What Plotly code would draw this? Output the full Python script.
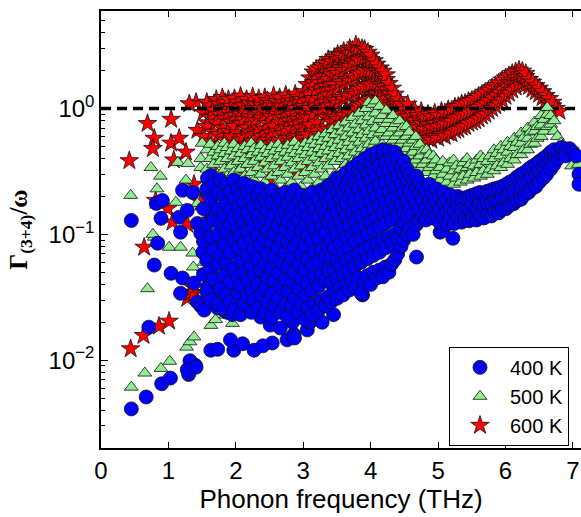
import plotly.graph_objects as go

# ---------------- data ----------------
series_names = ["400 K", "500 K", "600 K"]
threshold = 1.0
x_range = [0.0, 7.12]
y_log_range = [-2.698, 0.775]
x_tick_vals = [0, 1, 2, 3, 4, 5, 6, 7]
y_tick_vals = [0.01, 0.1, 1.0]
y_tick_text = ["10<sup>\u22122</sup>", "10<sup>\u22121</sup>", "10<sup>0</sup>"]

# 600 K (red stars): (frequency THz, Gamma/omega)
red_600K = [
    (0.44, 0.0123), (0.63, 0.0157), (0.86, 0.0186), (1.01, 0.0204),
    (0.64, 0.079), (1.28, 0.031), (1.33, 0.0345), (1.38, 0.034), (1.36, 0.038),
    (1.55, 0.049), (1.63, 0.043), (1.9, 0.05), (2.15, 0.055),
    (0.42, 0.385), (0.69, 0.76), (0.79, 0.58), (0.77, 0.48), (0.81, 0.186),
    (1.04, 0.82), (1.04, 0.53), (1.16, 0.58), (1.26, 0.45), (1.08, 0.39),
    (1.41, 1.12), (1.31, 1.09), (1.67, 1.06), (1.58, 0.77), (1.43, 0.67),
    (0.99, 0.16), (1.06, 0.125), (1.38, 0.25), (1.48, 0.18), (1.28, 0.12), (1.63, 0.13),
    (1.7, 0.3), (1.88, 0.22), (2.06, 0.33), (2.28, 0.19), (2.5, 0.28), (2.7, 0.35),
    (1.6, 0.15), (1.82, 0.1), (2.0, 0.13), (2.4, 0.36), (2.9, 0.32), (3.1, 0.35),
    (1.52, 0.93), (1.52, 0.6), (1.57, 0.72), (1.57, 1.12),
    (1.62, 0.55), (1.62, 0.85), (1.62, 1.05), (1.66, 0.65), (1.66, 0.97),
    (1.71, 0.5), (1.71, 0.78), (1.71, 1.18), (1.75, 0.62), (1.75, 0.9), (1.75, 1.08),
    (1.8, 0.46), (1.8, 0.7), (1.8, 1.0), (1.8, 1.22), (1.84, 0.56), (1.84, 0.83), (1.84, 1.12),
    (1.89, 0.5), (1.89, 0.66), (1.89, 0.93), (1.89, 1.18), (1.93, 0.42), (1.93, 0.6), (1.93, 0.78), (1.93, 1.04),
    (1.98, 0.53), (1.98, 0.72), (1.98, 0.88), (1.98, 1.2), (2.02, 0.47), (2.02, 0.64), (2.02, 0.98), (2.02, 1.12),
    (2.07, 0.56), (2.07, 0.76), (2.07, 0.9), (2.07, 1.25), (2.11, 0.44), (2.11, 0.6), (2.11, 0.82), (2.11, 1.05),
    (2.16, 0.52), (2.16, 0.7), (2.16, 0.94), (2.16, 1.18), (2.2, 0.48), (2.2, 0.65), (2.2, 0.86), (2.2, 1.1),
    (2.25, 0.55), (2.25, 0.74), (2.25, 1.0), (2.25, 1.24), (2.29, 0.45), (2.29, 0.62), (2.29, 0.8), (2.29, 1.08),
    (2.34, 0.52), (2.34, 0.7), (2.34, 0.92), (2.34, 1.2), (2.38, 0.43), (2.38, 0.6), (2.38, 0.84), (2.38, 1.06),
    (2.43, 0.5), (2.43, 0.68), (2.43, 0.95), (2.43, 1.22), (2.47, 0.56), (2.47, 0.76), (2.47, 1.02), (2.47, 1.15),
    (2.52, 0.47), (2.52, 0.64), (2.52, 0.86), (2.52, 1.1), (2.56, 0.53), (2.56, 0.72), (2.56, 0.98), (2.56, 1.26),
    (2.61, 0.49), (2.61, 0.66), (2.61, 0.9), (2.61, 1.14), (2.65, 0.56), (2.65, 0.77), (2.65, 1.04), (2.65, 1.22),
    (2.7, 0.46), (2.7, 0.63), (2.7, 0.85), (2.7, 1.12), (2.74, 0.52), (2.74, 0.7), (2.74, 0.95), (2.74, 1.28),
    (2.79, 0.58), (2.79, 0.8), (2.79, 1.06), (2.79, 1.2), (2.83, 0.5), (2.83, 0.68), (2.83, 0.9), (2.83, 1.15),
    (2.88, 0.55), (2.88, 0.74), (2.88, 1.0), (2.88, 1.3), (2.92, 0.6), (2.92, 0.82), (2.92, 1.1), (2.92, 1.22),
    (2.97, 0.52), (2.97, 0.7), (2.97, 0.94), (2.97, 1.18), (3.01, 0.58), (3.01, 0.78), (3.01, 1.04), (3.01, 1.36),
    (3.06, 0.62), (3.06, 0.85), (3.06, 1.15), (3.06, 1.55),
    (3.1, 0.55), (3.1, 0.74), (3.1, 1.0), (3.1, 1.28), (3.1, 1.75),
    (3.15, 0.45), (3.15, 0.66), (3.15, 0.9), (3.15, 1.2), (3.15, 1.6), (3.15, 1.95),
    (3.19, 0.5), (3.19, 0.78), (3.19, 1.05), (3.19, 1.4), (3.19, 1.85), (3.19, 2.05),
    (3.24, 0.62), (3.24, 0.92), (3.24, 1.2), (3.24, 1.6), (3.24, 2.1),
    (3.28, 0.42), (3.28, 0.7), (3.28, 1.0), (3.28, 1.35), (3.28, 1.78), (3.28, 2.2),
    (3.33, 0.55), (3.33, 0.85), (3.33, 1.12), (3.33, 1.5), (3.33, 1.95), (3.33, 2.3),
    (3.37, 0.68), (3.37, 0.95), (3.37, 1.28), (3.37, 1.7), (3.37, 2.15), (3.37, 2.45),
    (3.42, 0.78), (3.42, 1.05), (3.42, 1.4), (3.42, 1.85), (3.42, 2.35),
    (3.46, 0.85), (3.46, 1.15), (3.46, 1.55), (3.46, 2.0), (3.46, 2.55),
    (3.51, 0.82), (3.51, 1.1), (3.51, 1.45), (3.51, 1.9), (3.51, 2.45), (3.51, 2.7),
    (3.55, 0.9), (3.55, 1.22), (3.55, 1.62), (3.55, 2.1), (3.55, 2.65),
    (3.6, 0.88), (3.6, 1.18), (3.6, 1.55), (3.6, 2.0), (3.6, 2.5), (3.6, 2.85),
    (3.64, 0.95), (3.64, 1.28), (3.64, 1.7), (3.64, 2.2), (3.64, 2.75),
    (3.69, 0.92), (3.69, 1.25), (3.69, 1.65), (3.69, 2.15), (3.69, 2.7), (3.69, 3.0),
    (3.73, 1.0), (3.73, 1.35), (3.73, 1.8), (3.73, 2.35), (3.73, 2.9),
    (3.78, 0.98), (3.78, 1.3), (3.78, 1.72), (3.78, 2.25), (3.78, 2.8), (3.78, 3.2),
    (3.82, 1.05), (3.82, 1.42), (3.82, 1.88), (3.82, 2.45), (3.82, 3.05),
    (3.87, 1.08), (3.87, 1.45), (3.87, 1.92), (3.87, 2.5), (3.87, 3.0),
    (3.91, 1.12), (3.91, 1.5), (3.91, 2.0), (3.91, 2.55), (3.91, 2.95),
    (3.96, 1.15), (3.96, 1.55), (3.96, 2.05), (3.96, 2.6), (3.96, 2.8),
    (4.0, 1.18), (4.0, 1.55), (4.0, 2.0), (4.0, 2.45), (4.0, 2.65),
    (4.05, 1.2), (4.05, 1.58), (4.05, 2.0), (4.05, 2.4),
    (4.09, 1.22), (4.09, 1.6), (4.09, 1.98), (4.09, 2.25),
    (4.14, 1.2), (4.14, 1.55), (4.14, 1.9), (4.14, 2.1),
    (4.18, 1.18), (4.18, 1.5), (4.18, 1.8), (4.18, 1.98),
    (4.23, 1.12), (4.23, 1.42), (4.23, 1.7), (4.23, 1.85),
    (4.27, 1.05), (4.27, 1.32), (4.27, 1.58),
    (4.32, 1.0), (4.32, 1.22), (4.32, 1.45),
    (4.36, 0.92), (4.36, 1.12), (4.36, 1.3),
    (4.41, 0.85), (4.41, 1.02), (4.41, 1.18),
    (4.45, 0.7), (4.45, 0.9), (4.45, 1.08),
    (4.5, 0.62), (4.5, 0.78), (4.5, 0.98), (4.55, 0.66), (4.55, 0.86), (4.55, 1.08),
    (4.6, 0.58), (4.6, 0.72), (4.6, 0.92), (4.65, 0.63), (4.65, 0.8), (4.65, 0.98),
    (4.7, 0.56), (4.7, 0.7), (4.7, 0.88), (4.75, 0.6), (4.75, 0.76), (4.75, 0.95),
    (4.8, 0.55), (4.8, 0.68), (4.8, 0.84), (4.85, 0.58), (4.85, 0.74), (4.85, 0.9),
    (4.9, 0.56), (4.9, 0.7), (4.9, 0.86), (4.95, 0.6), (4.95, 0.76), (4.95, 0.92),
    (5.0, 0.58), (5.0, 0.72), (5.0, 0.88), (5.05, 0.62), (5.05, 0.78), (5.05, 0.95),
    (5.1, 0.6), (5.1, 0.75), (5.1, 0.92), (5.15, 0.64), (5.15, 0.8), (5.15, 0.98),
    (5.2, 0.63), (5.2, 0.79), (5.2, 0.97), (5.25, 0.67), (5.25, 0.84), (5.25, 1.03),
    (5.3, 0.68), (5.3, 0.85), (5.3, 1.04), (5.35, 0.71), (5.35, 0.89), (5.35, 1.09),
    (5.4, 0.72), (5.4, 0.9), (5.4, 1.1), (5.45, 0.76), (5.45, 0.94), (5.45, 1.14),
    (5.5, 0.78), (5.5, 0.96), (5.5, 1.16), (5.55, 0.8), (5.55, 1.0), (5.55, 1.2),
    (5.6, 0.83), (5.6, 1.02), (5.6, 1.25), (5.65, 0.87), (5.65, 1.07), (5.65, 1.3),
    (5.7, 0.9), (5.7, 1.1), (5.7, 1.35), (5.75, 0.95), (5.75, 1.16), (5.75, 1.4),
    (5.8, 1.0), (5.8, 1.22), (5.8, 1.46), (5.85, 1.05), (5.85, 1.28), (5.85, 1.52),
    (5.9, 1.1), (5.9, 1.35), (5.9, 1.6), (5.95, 1.17), (5.95, 1.42), (5.95, 1.68),
    (6.0, 1.25), (6.0, 1.5), (6.0, 1.75), (6.05, 1.32), (6.05, 1.6), (6.05, 1.82),
    (6.1, 1.4), (6.1, 1.68), (6.1, 1.9), (6.15, 1.48), (6.15, 1.76), (6.15, 1.96),
    (6.2, 1.58), (6.2, 1.85), (6.2, 2.02), (6.25, 1.6), (6.25, 1.86), (6.25, 1.98),
    (6.3, 1.55), (6.3, 1.8), (6.3, 1.9), (6.35, 1.5), (6.35, 1.7),
    (6.4, 1.42), (6.4, 1.62), (6.45, 1.36), (6.45, 1.52),
    (6.5, 1.3), (6.5, 1.45), (6.55, 1.22), (6.55, 1.36),
    (6.6, 1.16), (6.6, 1.27), (6.65, 1.1), (6.65, 1.2),
    (6.7, 1.05), (6.7, 1.12), (6.75, 1.0), (6.8, 0.95),
]

# 500 K (green triangles)
green_500K = [
    (0.45, 0.0061), (0.65, 0.0079), (0.89, 0.0086), (1.02, 0.0098), (1.27, 0.0127),
    (1.32, 0.014), (1.38, 0.0153), (1.63, 0.0189), (1.7, 0.021), (1.85, 0.0228),
    (1.95, 0.0196), (0.69, 0.037),
    (0.44, 0.204), (0.74, 0.34), (0.88, 0.29), (0.83, 0.23), (1.14, 0.373), (1.26, 0.27),
    (1.29, 0.365), (1.5, 0.53), (1.48, 0.40), (1.70, 0.40), (1.85, 0.46), (1.87, 0.39),
    (2.12, 0.49), (2.1, 0.42),
    (0.79, 0.095), (1.01, 0.079), (1.18, 0.079), (1.11, 0.18), (1.43, 0.176), (1.48, 0.34),
    (1.28, 0.23), (1.36, 0.071), (1.53, 0.06), (1.37, 0.055), (1.68, 0.049), (0.77, 0.10),
    (1.57, 0.22), (1.57, 0.33), (1.57, 0.47), (1.62, 0.18), (1.62, 0.27), (1.62, 0.4), (1.62, 0.52),
    (1.67, 0.15), (1.67, 0.24), (1.67, 0.36), (1.67, 0.45), (1.73, 0.2), (1.73, 0.3), (1.73, 0.42), (1.73, 0.5),
    (1.77, 0.16), (1.77, 0.26), (1.77, 0.38), (1.77, 0.47),
    (1.83, 0.13), (1.83, 0.22), (1.83, 0.33), (1.83, 0.44), (1.83, 0.53),
    (1.87, 0.18), (1.87, 0.29), (1.87, 0.4), (1.87, 0.49),
    (1.93, 0.14), (1.93, 0.24), (1.93, 0.35), (1.93, 0.46),
    (1.97, 0.12), (1.97, 0.2), (1.97, 0.31), (1.97, 0.42), (1.97, 0.52),
    (2.03, 0.17), (2.03, 0.27), (2.03, 0.38), (2.03, 0.48),
    (2.07, 0.13), (2.07, 0.22), (2.07, 0.33), (2.07, 0.44),
    (2.13, 0.11), (2.13, 0.19), (2.13, 0.29), (2.13, 0.4), (2.13, 0.5),
    (2.17, 0.15), (2.17, 0.25), (2.17, 0.36), (2.17, 0.47),
    (2.23, 0.12), (2.23, 0.21), (2.23, 0.31), (2.23, 0.43), (2.23, 0.53),
    (2.27, 0.17), (2.27, 0.27), (2.27, 0.38), (2.27, 0.48),
    (2.33, 0.1), (2.33, 0.23), (2.33, 0.34), (2.33, 0.45),
    (2.37, 0.14), (2.37, 0.2), (2.37, 0.3), (2.37, 0.41), (2.37, 0.51),
    (2.43, 0.12), (2.43, 0.26), (2.43, 0.37), (2.43, 0.47),
    (2.47, 0.16), (2.47, 0.22), (2.47, 0.33), (2.47, 0.44),
    (2.53, 0.1), (2.53, 0.19), (2.53, 0.29), (2.53, 0.4), (2.53, 0.5),
    (2.57, 0.14), (2.57, 0.24), (2.57, 0.35), (2.57, 0.46),
    (2.63, 0.11), (2.63, 0.21), (2.63, 0.31), (2.63, 0.42), (2.63, 0.52),
    (2.67, 0.17), (2.67, 0.27), (2.67, 0.38), (2.67, 0.48),
    (2.73, 0.09), (2.73, 0.23), (2.73, 0.34), (2.73, 0.45),
    (2.77, 0.13), (2.77, 0.2), (2.77, 0.3), (2.77, 0.41), (2.77, 0.51),
    (2.83, 0.11), (2.83, 0.26), (2.83, 0.37), (2.83, 0.47),
    (2.87, 0.15), (2.87, 0.22), (2.87, 0.33), (2.87, 0.44), (2.87, 0.54),
    (2.93, 0.08), (2.93, 0.19), (2.93, 0.29), (2.93, 0.4), (2.93, 0.5),
    (2.97, 0.12), (2.97, 0.24), (2.97, 0.35), (2.97, 0.46),
    (3.03, 0.1), (3.03, 0.21), (3.03, 0.31), (3.03, 0.43), (3.03, 0.53),
    (3.07, 0.14), (3.07, 0.27), (3.07, 0.38), (3.07, 0.49),
    (3.13, 0.07), (3.13, 0.17), (3.13, 0.23), (3.13, 0.34), (3.13, 0.45), (3.13, 0.56),
    (3.17, 0.11), (3.17, 0.2), (3.17, 0.3), (3.17, 0.41), (3.17, 0.52),
    (3.23, 0.06), (3.23, 0.15), (3.23, 0.26), (3.23, 0.37), (3.23, 0.48), (3.23, 0.6),
    (3.27, 0.09), (3.27, 0.22), (3.27, 0.33), (3.27, 0.44), (3.27, 0.55),
    (3.33, 0.05), (3.33, 0.14), (3.33, 0.29), (3.33, 0.4), (3.33, 0.5), (3.33, 0.63),
    (3.37, 0.19), (3.37, 0.35), (3.37, 0.46), (3.37, 0.58),
    (3.43, 0.155), (3.43, 0.26), (3.43, 0.42), (3.43, 0.53), (3.43, 0.68),
    (3.47, 0.3), (3.47, 0.38), (3.47, 0.49), (3.47, 0.62),
    (3.53, 0.28), (3.53, 0.44), (3.53, 0.56), (3.53, 0.73),
    (3.57, 0.33), (3.57, 0.4), (3.57, 0.51), (3.57, 0.66),
    (3.63, 0.36), (3.63, 0.47), (3.63, 0.6), (3.63, 0.78),
    (3.67, 0.42), (3.67, 0.54), (3.67, 0.7),
    (3.73, 0.38), (3.73, 0.5), (3.73, 0.64), (3.73, 0.85),
    (3.77, 0.45), (3.77, 0.58), (3.77, 0.75),
    (3.83, 0.42), (3.83, 0.54), (3.83, 0.68), (3.83, 0.92),
    (3.87, 0.48), (3.87, 0.62), (3.87, 0.8),
    (3.93, 0.46), (3.93, 0.58), (3.93, 0.74), (3.93, 1.0),
    (3.97, 0.52), (3.97, 0.66), (3.97, 0.86), (3.97, 1.12),
    (4.03, 0.5), (4.03, 0.62), (4.03, 0.79), (4.03, 1.08),
    (4.07, 0.55), (4.07, 0.7), (4.07, 0.92), (4.07, 1.15),
    (4.13, 0.48), (4.13, 0.64), (4.13, 0.82), (4.13, 1.04),
    (4.17, 0.52), (4.17, 0.68), (4.17, 0.88),
    (4.23, 0.46), (4.23, 0.6), (4.23, 0.76), (4.23, 0.97),
    (4.27, 0.5), (4.27, 0.64), (4.27, 0.82),
    (4.33, 0.44), (4.33, 0.56), (4.33, 0.7), (4.33, 0.88),
    (4.37, 0.48), (4.37, 0.6), (4.37, 0.76),
    (4.43, 0.41), (4.43, 0.52), (4.43, 0.64), (4.43, 0.8),
    (4.47, 0.45), (4.47, 0.56), (4.47, 0.7),
    (4.53, 0.38), (4.53, 0.48), (4.53, 0.6), (4.53, 0.72),
    (4.57, 0.42), (4.57, 0.53), (4.57, 0.65),
    (4.63, 0.36), (4.63, 0.45), (4.63, 0.56),
    (4.67, 0.39), (4.67, 0.5), (4.67, 0.6),
    (4.73, 0.33), (4.73, 0.42), (4.73, 0.52),
    (4.77, 0.36), (4.77, 0.46),
    (4.83, 0.31), (4.83, 0.39), (4.83, 0.47),
    (4.87, 0.34), (4.87, 0.43),
    (4.93, 0.29), (4.93, 0.36), (4.93, 0.42),
    (4.97, 0.32), (4.97, 0.39),
    (5.03, 0.27), (5.03, 0.34), (5.07, 0.3), (5.07, 0.38),
    (5.13, 0.26), (5.13, 0.33), (5.17, 0.29), (5.17, 0.37),
    (5.23, 0.25), (5.23, 0.32), (5.23, 0.39), (5.27, 0.28), (5.27, 0.35),
    (5.33, 0.26), (5.33, 0.33), (5.37, 0.29), (5.37, 0.37),
    (5.43, 0.27), (5.43, 0.34), (5.43, 0.4), (5.47, 0.3), (5.47, 0.36),
    (5.53, 0.28), (5.53, 0.35), (5.57, 0.31), (5.57, 0.39),
    (5.63, 0.29), (5.63, 0.36), (5.63, 0.42), (5.67, 0.32), (5.67, 0.4),
    (5.73, 0.3), (5.73, 0.38), (5.77, 0.33), (5.77, 0.42),
    (5.83, 0.32), (5.83, 0.4), (5.83, 0.47), (5.87, 0.35), (5.87, 0.44),
    (5.93, 0.34), (5.93, 0.42), (5.93, 0.5), (5.97, 0.37), (5.97, 0.47),
    (6.03, 0.36), (6.03, 0.45), (6.03, 0.54), (6.07, 0.4), (6.07, 0.5),
    (6.13, 0.39), (6.13, 0.49), (6.13, 0.58), (6.17, 0.43), (6.17, 0.54),
    (6.23, 0.43), (6.23, 0.53), (6.23, 0.64), (6.27, 0.47), (6.27, 0.59),
    (6.33, 0.47), (6.33, 0.58), (6.33, 0.7), (6.37, 0.52), (6.37, 0.65),
    (6.43, 0.53), (6.43, 0.66), (6.43, 0.78), (6.47, 0.58), (6.47, 0.72),
    (6.53, 0.6), (6.53, 0.74), (6.53, 0.88), (6.57, 0.66), (6.57, 0.82),
    (6.62, 0.72), (6.62, 0.9), (6.62, 1.02), (6.67, 0.75), (6.67, 0.88),
    (6.72, 0.66), (6.72, 0.8), (6.77, 0.6), (6.82, 0.53), (6.88, 0.45),
    (6.93, 0.4), (6.98, 0.35), (7.08, 0.36),
]

# 400 K (blue circles)
blue_400K = [
    (0.45, 0.0041), (0.67, 0.0051), (0.90, 0.0065), (1.03, 0.0072), (1.30, 0.0077),
    (1.40, 0.0091), (1.32, 0.0099), (1.28, 0.0084), (1.41, 0.0088),
    (1.63, 0.012), (1.73, 0.0122), (1.97, 0.012), (2.27, 0.012), (1.92, 0.0145),
    (2.1, 0.0135), (2.54, 0.0137), (2.76, 0.0145), (2.86, 0.016), (2.4, 0.013),
    (0.71, 0.0183),
    (0.79, 0.057), (1.04, 0.049), (1.21, 0.045), (1.18, 0.034), (1.38, 0.041), (1.43, 0.029),
    (1.48, 0.027), (1.53, 0.025), (1.58, 0.038), (1.7, 0.035), (1.73, 0.026), (1.87, 0.024),
    (1.51, 0.072), (1.75, 0.082),
    (1.82, 0.025), (1.95, 0.023), (2.04, 0.031), (2.17, 0.027), (2.37, 0.022), (2.51, 0.019),
    (2.66, 0.018), (2.84, 0.02), (1.97, 0.036), (1.87, 0.030), (1.73, 0.041),
    (3.06, 0.0174), (3.1, 0.02), (2.87, 0.015), (3.28, 0.02), (3.45, 0.023), (3.88, 0.033),
    (0.45, 0.129), (0.89, 0.134), (0.82, 0.176), (0.91, 0.186), (1.21, 0.224), (1.36, 0.215),
    (1.63, 0.294), (1.58, 0.28),
    (1.18, 0.104), (0.84, 0.085), (1.16, 0.137), (1.28, 0.155), (1.43, 0.122), (1.48, 0.102),
    (1.73, 0.085), (1.63, 0.147), (1.58, 0.21), (1.95, 0.25), (2.02, 0.245), (2.27, 0.236),
    (1.52, 0.048), (1.52, 0.088), (1.52, 0.16),
    (1.57, 0.035), (1.57, 0.062), (1.57, 0.12), (1.57, 0.23),
    (1.63, 0.03), (1.63, 0.052), (1.63, 0.095), (1.63, 0.19),
    (1.67, 0.044), (1.67, 0.075), (1.67, 0.13), (1.67, 0.25),
    (1.73, 0.028), (1.73, 0.058), (1.73, 0.1), (1.73, 0.16), (1.73, 0.21),
    (1.77, 0.037), (1.77, 0.068), (1.77, 0.12), (1.77, 0.27),
    (1.83, 0.026), (1.83, 0.047), (1.83, 0.083), (1.83, 0.14), (1.83, 0.2),
    (1.86, 0.033), (1.86, 0.06), (1.86, 0.105), (1.86, 0.175), (1.86, 0.25),
    (1.92, 0.029), (1.92, 0.042), (1.92, 0.072), (1.92, 0.12), (1.92, 0.155), (1.92, 0.22),
    (1.97, 0.025), (1.97, 0.053), (1.97, 0.09), (1.97, 0.135), (1.97, 0.19), (1.97, 0.27),
    (2.03, 0.034), (2.03, 0.046), (2.03, 0.078), (2.03, 0.11), (2.03, 0.165), (2.03, 0.23),
    (2.07, 0.023), (2.07, 0.039), (2.07, 0.062), (2.07, 0.097), (2.07, 0.145), (2.07, 0.2),
    (2.12, 0.028), (2.12, 0.05), (2.12, 0.085), (2.12, 0.125), (2.12, 0.18), (2.12, 0.255),
    (2.17, 0.032), (2.17, 0.043), (2.17, 0.068), (2.17, 0.105), (2.17, 0.15), (2.17, 0.215),
    (2.23, 0.024), (2.23, 0.036), (2.23, 0.057), (2.23, 0.09), (2.23, 0.13), (2.23, 0.19), (2.23, 0.24),
    (2.27, 0.03), (2.27, 0.048), (2.27, 0.076), (2.27, 0.115), (2.27, 0.165),
    (2.33, 0.026), (2.33, 0.04), (2.33, 0.063), (2.33, 0.098), (2.33, 0.14), (2.33, 0.205),
    (2.37, 0.033), (2.37, 0.052), (2.37, 0.082), (2.37, 0.12), (2.37, 0.175), (2.37, 0.23),
    (2.43, 0.024), (2.43, 0.037), (2.43, 0.058), (2.43, 0.092), (2.43, 0.135), (2.43, 0.19),
    (2.47, 0.029), (2.47, 0.045), (2.47, 0.07), (2.47, 0.108), (2.47, 0.155), (2.47, 0.21),
    (2.53, 0.022), (2.53, 0.034), (2.53, 0.054), (2.53, 0.086), (2.53, 0.125), (2.53, 0.18), (2.53, 0.225),
    (2.57, 0.027), (2.57, 0.043), (2.57, 0.066), (2.57, 0.1), (2.57, 0.145),
    (2.63, 0.031), (2.63, 0.049), (2.63, 0.077), (2.63, 0.117), (2.63, 0.165), (2.63, 0.205),
    (2.67, 0.024), (2.67, 0.038), (2.67, 0.06), (2.67, 0.093), (2.67, 0.135), (2.67, 0.19),
    (2.73, 0.028), (2.73, 0.044), (2.73, 0.071), (2.73, 0.108), (2.73, 0.152), (2.73, 0.215),
    (2.77, 0.022), (2.77, 0.035), (2.77, 0.055), (2.77, 0.087), (2.77, 0.127), (2.77, 0.175),
    (2.83, 0.027), (2.83, 0.042), (2.83, 0.065), (2.83, 0.1), (2.83, 0.143), (2.83, 0.2),
    (2.87, 0.031), (2.87, 0.05), (2.87, 0.079), (2.87, 0.118), (2.87, 0.165), (2.87, 0.225),
    (2.93, 0.024), (2.93, 0.037), (2.93, 0.058), (2.93, 0.09), (2.93, 0.13), (2.93, 0.185),
    (2.97, 0.028), (2.97, 0.045), (2.97, 0.07), (2.97, 0.107), (2.97, 0.152), (2.97, 0.205),
    (3.03, 0.021), (3.03, 0.033), (3.03, 0.052), (3.03, 0.082), (3.03, 0.122), (3.03, 0.17),
    (3.07, 0.026), (3.07, 0.041), (3.07, 0.063), (3.07, 0.097), (3.07, 0.14), (3.07, 0.195),
    (3.13, 0.023), (3.13, 0.036), (3.13, 0.057), (3.13, 0.088), (3.13, 0.128), (3.13, 0.18), (3.13, 0.215),
    (3.17, 0.028), (3.17, 0.046), (3.17, 0.072), (3.17, 0.11), (3.17, 0.158),
    (3.23, 0.025), (3.23, 0.039), (3.23, 0.061), (3.23, 0.094), (3.23, 0.136), (3.23, 0.19),
    (3.27, 0.03), (3.27, 0.048), (3.27, 0.075), (3.27, 0.115), (3.27, 0.165), (3.27, 0.225),
    (3.33, 0.027), (3.33, 0.043), (3.33, 0.067), (3.33, 0.103), (3.33, 0.148), (3.33, 0.205),
    (3.37, 0.032), (3.37, 0.052), (3.37, 0.082), (3.37, 0.125), (3.37, 0.18), (3.37, 0.245),
    (3.41, 0.029), (3.41, 0.041), (3.41, 0.066), (3.41, 0.09), (3.41, 0.14), (3.41, 0.2), (3.41, 0.245),
    (3.46, 0.035), (3.46, 0.052), (3.46, 0.078), (3.46, 0.118), (3.46, 0.17), (3.46, 0.26),
    (3.5, 0.031), (3.5, 0.045), (3.5, 0.062), (3.5, 0.1), (3.5, 0.15), (3.5, 0.225), (3.5, 0.28),
    (3.55, 0.038), (3.55, 0.057), (3.55, 0.085), (3.55, 0.128), (3.55, 0.19), (3.55, 0.25),
    (3.59, 0.033), (3.59, 0.048), (3.59, 0.07), (3.59, 0.11), (3.59, 0.16), (3.59, 0.21), (3.59, 0.29),
    (3.64, 0.04), (3.64, 0.062), (3.64, 0.095), (3.64, 0.14), (3.64, 0.175), (3.64, 0.24), (3.64, 0.31),
    (3.68, 0.036), (3.68, 0.052), (3.68, 0.078), (3.68, 0.12), (3.68, 0.2), (3.68, 0.27),
    (3.73, 0.043), (3.73, 0.066), (3.73, 0.1), (3.73, 0.15), (3.73, 0.22), (3.73, 0.3), (3.73, 0.34),
    (3.77, 0.038), (3.77, 0.056), (3.77, 0.088), (3.77, 0.13), (3.77, 0.185), (3.77, 0.255),
    (3.82, 0.045), (3.82, 0.07), (3.82, 0.11), (3.82, 0.16), (3.82, 0.235), (3.82, 0.33), (3.82, 0.37),
    (3.86, 0.034), (3.86, 0.06), (3.86, 0.093), (3.86, 0.14), (3.86, 0.2), (3.86, 0.28),
    (3.91, 0.042), (3.91, 0.075), (3.91, 0.118), (3.91, 0.17), (3.91, 0.25), (3.91, 0.35), (3.91, 0.4),
    (3.95, 0.047), (3.95, 0.064), (3.95, 0.1), (3.95, 0.15), (3.95, 0.215), (3.95, 0.3),
    (4.0, 0.04), (4.0, 0.08), (4.0, 0.125), (4.0, 0.185), (4.0, 0.27), (4.0, 0.38), (4.0, 0.43),
    (4.04, 0.05), (4.04, 0.068), (4.04, 0.108), (4.04, 0.16), (4.04, 0.23), (4.04, 0.32),
    (4.09, 0.045), (4.09, 0.085), (4.09, 0.135), (4.09, 0.2), (4.09, 0.29), (4.09, 0.41), (4.09, 0.45),
    (4.13, 0.052), (4.13, 0.072), (4.13, 0.115), (4.13, 0.17), (4.13, 0.245), (4.13, 0.35),
    (4.18, 0.046), (4.18, 0.09), (4.18, 0.145), (4.18, 0.21), (4.18, 0.31), (4.18, 0.44), (4.18, 0.47),
    (4.22, 0.055), (4.22, 0.078), (4.22, 0.122), (4.22, 0.18), (4.22, 0.26), (4.22, 0.37),
    (4.27, 0.05), (4.27, 0.095), (4.27, 0.15), (4.27, 0.22), (4.27, 0.325), (4.27, 0.46),
    (4.31, 0.058), (4.31, 0.085), (4.31, 0.13), (4.31, 0.19), (4.31, 0.275), (4.31, 0.4),
    (4.36, 0.063), (4.36, 0.1), (4.36, 0.16), (4.36, 0.235), (4.36, 0.34), (4.36, 0.45),
    (4.4, 0.07), (4.4, 0.092), (4.4, 0.14), (4.4, 0.2), (4.4, 0.29), (4.4, 0.41),
    (4.45, 0.08), (4.45, 0.112), (4.45, 0.17), (4.45, 0.25), (4.45, 0.35),
    (4.49, 0.09), (4.49, 0.125), (4.49, 0.15), (4.49, 0.215), (4.49, 0.3), (4.49, 0.38),
    (4.54, 0.1), (4.54, 0.135), (4.54, 0.185), (4.54, 0.26), (4.54, 0.33),
    (4.58, 0.11), (4.58, 0.16), (4.58, 0.225), (4.58, 0.3),
    (4.63, 0.1), (4.63, 0.145), (4.63, 0.2), (4.63, 0.27),
    (4.68, 0.066), (4.68, 0.12), (4.68, 0.175), (4.68, 0.24), (4.68, 0.29),
    (4.72, 0.13), (4.72, 0.155), (4.72, 0.21), (4.72, 0.26),
    (4.77, 0.14), (4.77, 0.19), (4.77, 0.235),
    (4.82, 0.13), (4.82, 0.165), (4.82, 0.22),
    (4.87, 0.145), (4.87, 0.185), (4.87, 0.25),
    (4.92, 0.135), (4.92, 0.17), (4.92, 0.21),
    (4.97, 0.14), (4.97, 0.18), (4.97, 0.23),
    (5.03, 0.104), (5.22, 0.093), (5.07, 0.107),
    (5.02, 0.125), (5.02, 0.16), (5.02, 0.2), (5.08, 0.14), (5.08, 0.18), (5.08, 0.215),
    (5.13, 0.12), (5.13, 0.15), (5.13, 0.19), (5.18, 0.13), (5.18, 0.165), (5.18, 0.205),
    (5.24, 0.122), (5.24, 0.155), (5.24, 0.185), (5.29, 0.135), (5.29, 0.17), (5.29, 0.2),
    (5.35, 0.125), (5.35, 0.158), (5.35, 0.19), (5.4, 0.13), (5.4, 0.165), (5.4, 0.195),
    (5.46, 0.128), (5.46, 0.16), (5.46, 0.2), (5.51, 0.135), (5.51, 0.17), (5.51, 0.205),
    (5.57, 0.13), (5.57, 0.162), (5.57, 0.21), (5.62, 0.14), (5.62, 0.175), (5.62, 0.215),
    (5.68, 0.135), (5.68, 0.17), (5.68, 0.21), (5.73, 0.145), (5.73, 0.18), (5.73, 0.22),
    (5.79, 0.14), (5.79, 0.178), (5.79, 0.225), (5.84, 0.15), (5.84, 0.19), (5.84, 0.23),
    (5.9, 0.148), (5.9, 0.185), (5.9, 0.235), (5.95, 0.158), (5.95, 0.2), (5.95, 0.24),
    (6.01, 0.16), (6.01, 0.2), (6.01, 0.25), (6.06, 0.17), (6.06, 0.215), (6.06, 0.26),
    (6.12, 0.175), (6.12, 0.22), (6.12, 0.27), (6.17, 0.185), (6.17, 0.235), (6.17, 0.285),
    (6.23, 0.19), (6.23, 0.24), (6.23, 0.3), (6.28, 0.205), (6.28, 0.26), (6.28, 0.31),
    (6.34, 0.215), (6.34, 0.27), (6.34, 0.33), (6.39, 0.23), (6.39, 0.285), (6.39, 0.345),
    (6.45, 0.24), (6.45, 0.3), (6.45, 0.36), (6.5, 0.26), (6.5, 0.32), (6.5, 0.38),
    (6.56, 0.28), (6.56, 0.34), (6.56, 0.4), (6.61, 0.3), (6.61, 0.37), (6.61, 0.42),
    (6.67, 0.33), (6.67, 0.4), (6.67, 0.45), (6.72, 0.36), (6.72, 0.43), (6.72, 0.47),
    (6.78, 0.4), (6.78, 0.46), (6.84, 0.44), (6.84, 0.49), (6.89, 0.47), (6.89, 0.42),
    (6.95, 0.48), (7.0, 0.45), (7.05, 0.42), (7.09, 0.3), (7.09, 0.25),
]

# ---------------- figure ----------------
AXIS_FONT = "Liberation Sans, Arial, sans-serif"
edge = dict(color="#111111", width=0.8)

fig = go.Figure()

# red first (bottom), then dashed line, green, blue (top)
fig.add_trace(go.Scatter(
    x=[p[0] for p in red_600K], y=[p[1] for p in red_600K],
    mode="markers", name=series_names[2],
    marker=dict(symbol="star", size=14, color="#FF0000", line=edge),
))
fig.add_trace(go.Scatter(
    x=x_range, y=[threshold, threshold], mode="lines", showlegend=False,
    line=dict(color="black", width=3.5, dash="10px,6px"), hoverinfo="skip",
))
fig.add_trace(go.Scatter(
    x=[p[0] for p in green_500K], y=[p[1] for p in green_500K],
    mode="markers", name=series_names[1],
    marker=dict(symbol="triangle-up", size=12, color="#90EE90", line=edge),
))
fig.add_trace(go.Scatter(
    x=[p[0] for p in blue_400K], y=[p[1] for p in blue_400K],
    mode="markers", name=series_names[0],
    marker=dict(symbol="circle", size=14, color="#0000FF", line=edge),
))

minor_vals = [m * 10.0 ** e for e in (-3, -2, -1, 0) for m in range(2, 10)]

fig.update_layout(
    width=581, height=517,
    margin=dict(l=101, r=0, t=11, b=69),
    paper_bgcolor="white", plot_bgcolor="white",
    showlegend=True,
    legend=dict(
        x=0.725, y=0.2315, xanchor="left", yanchor="top",
        bgcolor="white", bordercolor="black", borderwidth=1,
        font=dict(family=AXIS_FONT, size=20, color="black"),
        traceorder="reversed", itemwidth=50,
    ),
    xaxis=dict(
        range=x_range, tickvals=x_tick_vals, automargin=False,
        ticks="inside", ticklen=6, tickwidth=1, tickcolor="black",
        showline=True, linecolor="black", linewidth=1.5, mirror="ticks",
        showgrid=False, zeroline=False,
        tickfont=dict(family=AXIS_FONT, size=24, color="black"),
        title=dict(text="Phonon frequency (THz)",
                   font=dict(family=AXIS_FONT, size=26, color="black"), standoff=4),
    ),
    yaxis=dict(
        type="log", range=y_log_range, automargin=False,
        tickmode="array", tickvals=y_tick_vals, ticktext=y_tick_text,
        ticks="inside", ticklen=7, tickwidth=1, tickcolor="black",
        minor=dict(tickmode="array", tickvals=minor_vals, ticks="inside",
                   ticklen=4, tickwidth=1, tickcolor="black", showgrid=False),
        showline=True, linecolor="black", linewidth=1.5, mirror=False,
        showgrid=False, zeroline=False,
        tickfont=dict(family=AXIS_FONT, size=24, color="black"),
        title=dict(text="<b>\u0393<sub>(3+4)</sub>/\u03c9</b>",
                   font=dict(family="Liberation Serif, Times New Roman, serif", size=25, color="black"),
                   standoff=14),
    ),
)

# the page's default 8px body margin would shift the figure; remove it
fig.write_html(
    "out.html",
    config={"displayModeBar": False},
    post_script="document.body.style.margin='0';document.body.style.padding='0';",
)
